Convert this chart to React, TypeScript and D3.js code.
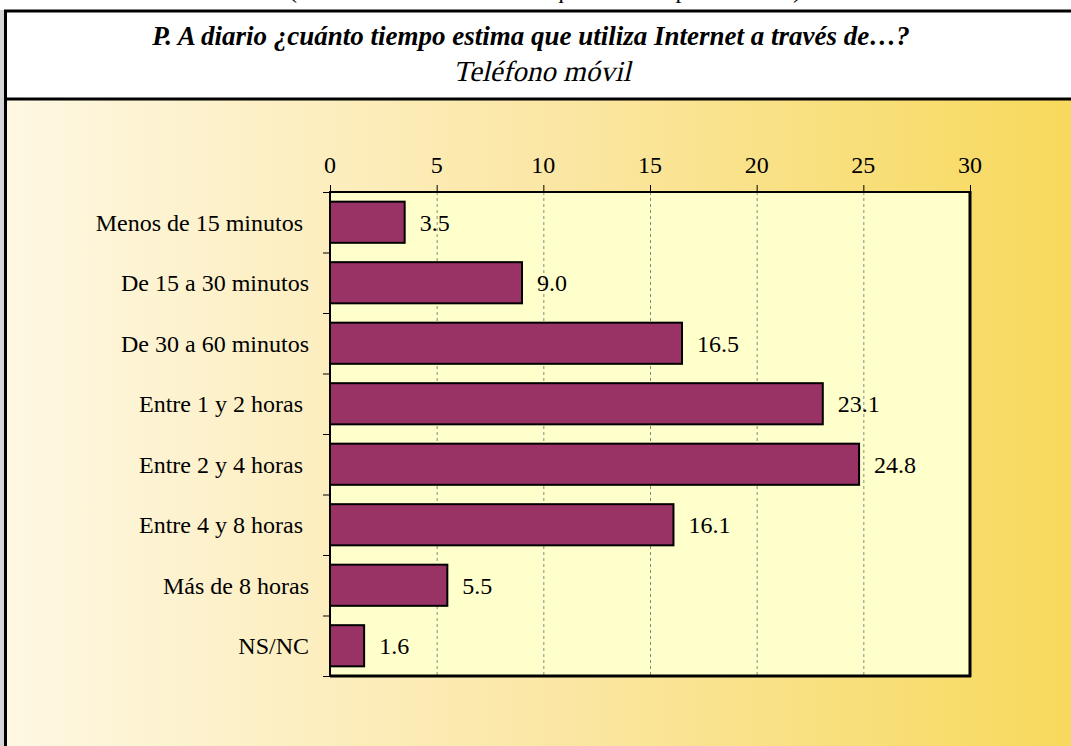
import React, { useEffect, useRef } from 'react'
import * as d3 from 'd3'

const categories = [
  'Menos de 15 minutos ',
  'De 15 a 30 minutos',
  'De 30 a 60 minutos',
  'Entre 1 y 2 horas ',
  'Entre 2 y 4 horas ',
  'Entre 4 y 8 horas ',
  'Más de 8 horas',
  'NS/NC',
]
const values = [3.5, 9.0, 16.5, 23.1, 24.8, 16.1, 5.5, 1.6]
const xTicks = [0, 5, 10, 15, 20, 25, 30]

const title = 'P. A diario ¿cuánto tiempo estima que utiliza Internet a través de…?'
const subtitle = 'Teléfono móvil'
const topNote = '(Base: usuarios de Internet que acceden por el móvil)'

const W = 1071
const H = 746
const FONT = '"Liberation Serif", "Times New Roman", serif'

const App = () => {
  const ref = useRef<SVGSVGElement>(null)

  useEffect(() => {
    const svg = d3.select(ref.current)
    svg.selectAll('*').remove()

    const plot = { left: 330, right: 970, top: 192, bottom: 676 }

    const x = d3.scaleLinear().domain([0, 30]).range([plot.left, plot.right])
    const y = d3
      .scaleBand()
      .domain(categories)
      .range([plot.top, plot.bottom])
      .paddingInner(0.32)
      .paddingOuter(0.16)

    const defs = svg.append('defs')
    const grad = defs.append('linearGradient').attr('id', 'bg').attr('x1', '0%').attr('x2', '100%')
    grad.append('stop').attr('offset', '0%').attr('stop-color', '#fef8e3')
    grad.append('stop').attr('offset', '50%').attr('stop-color', '#fbe7a6')
    grad.append('stop').attr('offset', '100%').attr('stop-color', '#f7d95c')

    // cut-off note at top of the page
    svg
      .append('text')
      .attr('x', 545)
      .attr('y', -2)
      .attr('text-anchor', 'middle')
      .style('font-family', FONT)
      .style('font-size', '24px')
      .text(topNote)

    // background panel
    svg.append('rect').attr('x', 0).attr('y', 10).attr('width', 4).attr('height', H).attr('fill', '#d6d6d6')
    svg.append('rect').attr('x', 5).attr('y', 100).attr('width', W).attr('height', H - 100).attr('fill', 'url(#bg)')
    svg.append('line').attr('x1', 5.5).attr('x2', 5.5).attr('y1', 10).attr('y2', H).attr('stroke', '#000').attr('stroke-width', 3)

    // title box
    svg
      .append('rect')
      .attr('x', 5.5)
      .attr('y', 11)
      .attr('width', W + 10)
      .attr('height', 88)
      .attr('fill', '#fff')
      .attr('stroke', '#000')
      .attr('stroke-width', 3)

    svg
      .append('text')
      .attr('x', 531)
      .attr('y', 45)
      .attr('text-anchor', 'middle')
      .style('font-family', FONT)
      .style('font-size', '27px')
      .style('font-weight', 'bold')
      .style('font-style', 'italic')
      .text(title)

    // italic serif face is faked with a skew so it stays a serif
    svg
      .append('text')
      .attr('transform', 'translate(542,81) skewX(-13)')
      .attr('text-anchor', 'middle')
      .style('font-family', FONT)
      .style('font-size', '29px')
      .text(subtitle)

    // plot area
    svg
      .append('rect')
      .attr('x', plot.left)
      .attr('y', plot.top)
      .attr('width', plot.right - plot.left)
      .attr('height', plot.bottom - plot.top)
      .attr('fill', '#ffffcc')

    svg
      .append('g')
      .selectAll('line')
      .data(xTicks.filter(d => d > 0 && d < 30))
      .enter()
      .append('line')
      .attr('x1', d => x(d) + 0.5)
      .attr('x2', d => x(d) + 0.5)
      .attr('y1', plot.top)
      .attr('y2', plot.bottom)
      .attr('stroke', '#888')
      .attr('stroke-width', 1)
      .attr('stroke-dasharray', '3,3')

    // frame
    svg.append('line').attr('x1', plot.left).attr('x2', plot.right + 1).attr('y1', plot.top).attr('y2', plot.top).attr('stroke', '#000').attr('stroke-width', 2)
    svg.append('line').attr('x1', plot.right).attr('x2', plot.right).attr('y1', plot.top - 1).attr('y2', plot.bottom + 1).attr('stroke', '#000').attr('stroke-width', 3)
    svg.append('line').attr('x1', plot.left).attr('x2', plot.right + 1).attr('y1', plot.bottom).attr('y2', plot.bottom).attr('stroke', '#000').attr('stroke-width', 3)

    // top axis
    const top = svg.append('g')
    top
      .selectAll('line')
      .data(xTicks)
      .enter()
      .append('line')
      .attr('x1', d => x(d) + 0.5)
      .attr('x2', d => x(d) + 0.5)
      .attr('y1', plot.top - 7)
      .attr('y2', plot.top)
      .attr('stroke', '#000')
    top
      .selectAll('text')
      .data(xTicks)
      .enter()
      .append('text')
      .attr('x', d => x(d))
      .attr('y', 173)
      .attr('text-anchor', 'middle')
      .style('font-family', FONT)
      .style('font-size', '24px')
      .text(d => d)

    // left axis
    const boundaries = d3.range(categories.length + 1).map(i => plot.top + i * y.step())
    svg
      .append('g')
      .selectAll('line')
      .data(boundaries)
      .enter()
      .append('line')
      .attr('x1', plot.left - 7)
      .attr('x2', plot.left)
      .attr('y1', d => d + 0.5)
      .attr('y2', d => d + 0.5)
      .attr('stroke', '#000')
    svg.append('line').attr('x1', plot.left).attr('x2', plot.left).attr('y1', plot.top - 1).attr('y2', plot.bottom + 1).attr('stroke', '#000').attr('stroke-width', 2)

    svg
      .append('g')
      .selectAll('text')
      .data(categories)
      .enter()
      .append('text')
      .attr('x', 309)
      .attr('y', d => y(d)! + y.bandwidth() / 2)
      .attr('dy', '0.35em')
      .attr('text-anchor', 'end')
      .style('white-space', 'pre')
      .style('font-family', FONT)
      .style('font-size', '24px')
      .text(d => d)

    // bars
    svg
      .append('g')
      .selectAll('rect')
      .data(values)
      .enter()
      .append('rect')
      .attr('x', x(0))
      .attr('y', (d, i) => y(categories[i])!)
      .attr('width', d => x(d) - x(0))
      .attr('height', y.bandwidth())
      .attr('fill', '#993366')
      .attr('stroke', '#000')
      .attr('stroke-width', 2)

    svg
      .append('g')
      .selectAll('text')
      .data(values)
      .enter()
      .append('text')
      .attr('x', d => x(d) + 15)
      .attr('y', (d, i) => y(categories[i])! + y.bandwidth() / 2)
      .attr('dy', '0.35em')
      .style('font-family', FONT)
      .style('font-size', '24px')
      .text(d => d.toFixed(1))
  }, [])

  return (
    <svg
      ref={ref}
      width={W}
      height={H}
      style={{ position: 'absolute', left: 0, top: 0, background: '#fff' }}
    ></svg>
  )
}

export default App
